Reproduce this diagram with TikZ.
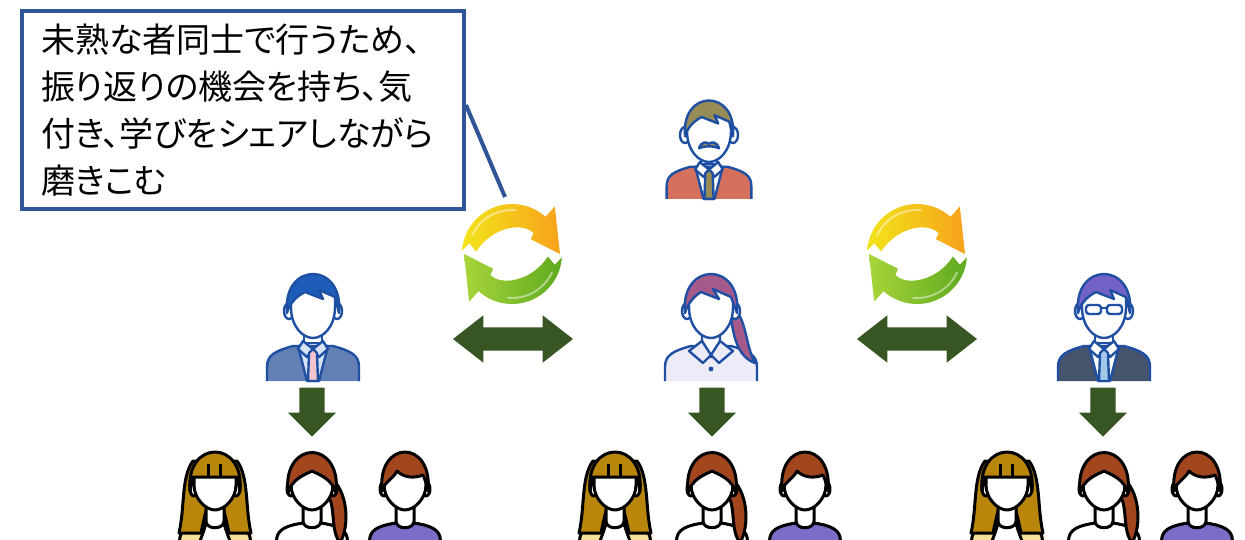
\documentclass[tikz,border=0pt]{standalone}
\usepackage{fontspec}
\newfontfamily\jpfont[RawFeature=+palt]{Noto Sans CJK JP}
\usetikzlibrary{shapes.arrows}

\definecolor{noteblue}{HTML}{2F5597}
\definecolor{darkgreen}{HTML}{375623}
\definecolor{inkblue}{HTML}{1E4FA3}
\definecolor{olivehair}{HTML}{978C55}
\definecolor{bossred}{HTML}{D4705C}
\definecolor{bluehair}{HTML}{1D5CB8}
\definecolor{bluejacket}{HTML}{6380B5}
\definecolor{paleblue}{HTML}{D5E3F5}
\definecolor{pinktie}{HTML}{F2C4D0}
\definecolor{mauve}{HTML}{A65A8C}
\definecolor{lavender}{HTML}{EEEBF8}
\definecolor{violethair}{HTML}{7262C6}
\definecolor{slate}{HTML}{45556E}
\definecolor{skytie}{HTML}{A4C8EA}
\definecolor{goldhair}{HTML}{B8860B}
\definecolor{paleyellow}{HTML}{F5DF9B}
\definecolor{brownhair}{HTML}{A1461D}
\definecolor{purpleshirt}{HTML}{7B6CC8}
\definecolor{cycyellow}{HTML}{F2E41A}
\definecolor{cycorange}{HTML}{F7A21B}
\definecolor{cycgreen}{HTML}{5EAA1F}
\definecolor{cyclime}{HTML}{A8D43A}

\tikzset{
  ink/.style={draw=inkblue, line width=2.4pt, line join=round},
  kid/.style={draw=black, line width=3pt, line join=round},
  notebox/.style={draw=noteblue, line width=4pt, fill=white, minimum width=442pt,
    minimum height=198pt, text width=404pt, inner xsep=19pt, align=left,
    font=\fontsize{34}{47}\selectfont\jpfont},
  swaparrow/.style={double arrow, fill=darkgreen, minimum width=47pt, minimum height=120pt,
    double arrow head extend=12pt, double arrow tip angle=76, inner xsep=0pt, inner ysep=11.5pt},
  downarrow/.style={single arrow, fill=darkgreen, minimum width=48pt, minimum height=49pt,
    single arrow head extend=11.5pt, single arrow tip angle=90, shape border rotate=270,
    inner xsep=12.5pt, inner ysep=0pt, anchor=tip},
  % office people, drawn around the face centre, y pointing down
  pics/officeface/.style={code={
    \draw[ink, fill=white] (-24,6) ellipse [x radius=5, y radius=8];
    \draw[ink, fill=white] (24,6) ellipse [x radius=5, y radius=8];
    \draw[ink, fill=white] (-22,-8) -- (-22,2) .. controls (-22,22) and (-10,33) .. (0,33)
      .. controls (10,33) and (22,22) .. (22,2) -- (22,-8);
  }},
  pics/officeman/.style n args={4}{code={
    \draw[ink, fill=#2] (-46,76) -- (-46,62) .. controls (-46,50) and (-38,46) .. (-20,41)
      -- (20,41) .. controls (38,46) and (46,50) .. (46,62) -- (46,76);
    \draw[ink, fill=#3] (-15,41) -- (15,41) -- (6,76) -- (-6,76) -- cycle;
    \draw[ink, fill=white] (-9,22) -- (-9,38) -- (9,38) -- (9,22);
    \draw[ink, fill=#3] (-10,36) -- (0,44) -- (-6,52) -- (-15,44) -- cycle;
    \draw[ink, fill=#3] (10,36) -- (0,44) -- (6,52) -- (15,44) -- cycle;
    \draw[ink, fill=#4] (0,44) -- (-4,48) -- (-5,76) -- (5,76) -- (4,48) -- cycle;
    \pic {officeface};
    \draw[ink, fill=#1] (-26,8) .. controls (-31,-44) and (31,-44) .. (26,8) -- (22,-8)
      -- (6,-15) -- (10,-6) -- (-8,-13) .. controls (-18,-8) and (-24,0) .. (-26,8) -- cycle;
  }},
  pics/officewoman/.style 2 args={code={
    \draw[ink, fill=#2] (-46,76) -- (-46,62) .. controls (-46,50) and (-38,46) .. (-20,41)
      -- (20,41) .. controls (38,46) and (46,50) .. (46,62) -- (46,76);
    \draw[ink, fill=white] (-9,22) -- (-9,40) -- (0,52) -- (9,40) -- (9,22);
    \draw[ink, fill=#2] (-9,36) -- (0,50) -- (-8,58) -- (-22,46) -- cycle;
    \draw[ink, fill=#2] (9,36) -- (0,50) -- (8,58) -- (22,46) -- cycle;
    \fill[inkblue] (0,64) circle (2.4);
    \draw[ink, fill=#1] (20,0) .. controls (36,12) and (34,40) .. (44,58)
      .. controls (28,52) and (24,36) .. (21,20) -- cycle;
    \pic {officeface};
    \draw[ink, fill=#1] (-26,8) .. controls (-31,-44) and (31,-44) .. (26,8) -- (20,-8)
      -- (2,-16) -- (8,-6) -- (-10,-13) .. controls (-18,-8) and (-24,0) .. (-26,8) -- cycle;
  }},
  pics/specs/.style={code={
    \draw[ink, rounded corners=3] (-18,0) rectangle (-3,9);
    \draw[ink, rounded corners=3] (3,0) rectangle (18,9);
    \draw[ink] (-3,3) -- (3,3);
  }},
  pics/mustache/.style={code={
    \draw[ink, fill=olivehair] (-11,21) .. controls (-8,13) and (-3,14) .. (0,16)
      .. controls (3,14) and (8,13) .. (11,21) .. controls (5,18) and (-5,18) .. cycle;
  }},
  % children, same idea with a black outline
  pics/kidface/.style={code={
    \draw[kid, fill=white] (-9,14) -- (-9,34) .. controls (-9,43) and (9,43) .. (9,34) -- (9,14);
    \draw[kid, fill=white] (-21,2) ellipse [x radius=4, y radius=7];
    \draw[kid, fill=white] (21,2) ellipse [x radius=4, y radius=7];
    \draw[kid, fill=white] (-21,-10) -- (-21,-2) .. controls (-21,12) and (-9,23) .. (0,23)
      .. controls (9,23) and (21,12) .. (21,-2) -- (21,-10);
  }},
  pics/kidbody/.style={code={
    \draw[kid, fill=#1] (-36,58) -- (-35,50) .. controls (-33,41) and (-22,38) .. (-9,36)
      -- (9,36) .. controls (22,38) and (33,41) .. (35,50) -- (36,58);
  }},
  pics/kidboy/.style 2 args={code={
    \pic {kidbody=#2};
    \pic {kidface};
    \draw[kid, fill=#1] (-23,4) .. controls (-28,-48) and (28,-48) .. (23,4)
      .. controls (21,-4) and (20,-8) .. (18,-12) .. controls (8,-8) and (-2,-10) .. (-8,-16)
      .. controls (-12,-8) and (-20,-6) .. (-23,4) -- cycle;
  }},
  pics/kidpony/.style 2 args={code={
    \pic {kidbody=#2};
    \draw[kid, fill=#1] (18,-10) .. controls (36,4) and (38,38) .. (28,56)
      .. controls (18,42) and (24,22) .. (16,8) -- cycle;
    \pic {kidface};
    \draw[kid, fill=#1] (-24,6) .. controls (-30,-48) and (30,-48) .. (24,6)
      .. controls (20,-8) and (8,-12) .. (0,-16) .. controls (-8,-12) and (-20,-8) .. (-24,6) -- cycle;
  }},
  pics/kidlong/.style 2 args={code={
    \pic {kidbody=#2};
    \draw[kid, fill=#1] (-22,-26) .. controls (-34,-10) and (-30,20) .. (-36,46) -- (-14,46)
      .. controls (-12,36) and (-10,28) .. (-8,20) -- (8,20) .. controls (10,28) and (12,36) .. (14,46)
      -- (36,46) .. controls (30,20) and (34,-10) .. (22,-26) -- cycle;
    \draw[kid, fill=white] (-8,14) -- (-8,32) .. controls (-10,42) and (-14,50) .. (-16,58)
      -- (16,58) .. controls (14,50) and (10,42) .. (8,32) -- (8,14);
    \pic {kidface};
    \draw[kid, fill=#1] (-25,4) .. controls (-30,-48) and (30,-48) .. (25,4) -- (22,-10) -- (-22,-10) -- cycle;
    \draw[kid] (-7,-10) -- (-7,-23) (5,-10) -- (5,-23);
  }},
  % pair of round arrows, y up inside
  pics/cycle/.style={code={
    \begin{scope}[yscale=-1]
      \shade[left color=cycyellow, right color=cycorange] (176:50) arc[start angle=176, end angle=48, radius=50]
        -- (48:64) -- (0:48) -- (38:24) -- (44:30) .. controls (70:34) and (125:34) .. (176:36) -- (166:44) -- cycle;
      \draw[white, opacity=0.45, line width=2pt, line cap=round] (155:44) arc[start angle=155, end angle=85, radius=44];
      \begin{scope}[rotate=180]
        \shade[left color=cyclime, right color=cycgreen] (176:50) arc[start angle=176, end angle=48, radius=50]
          -- (48:64) -- (0:48) -- (38:24) -- (44:30) .. controls (70:34) and (125:34) .. (176:36) -- (166:44) -- cycle;
        \draw[white, opacity=0.45, line width=2pt, line cap=round] (155:44) arc[start angle=155, end angle=85, radius=44];
      \end{scope}
    \end{scope}
  }},
}

\begin{document}
\begin{tikzpicture}[x=1pt, y=-1pt]
  \useasboundingbox[fill=white] (0,0) rectangle (1245,539);

  % callout
  \node[notebox, anchor=north west] (note) at (20,9)
    {未熟な者同士で行うため、\\振り返りの機会を持ち、気\\付き、学びをシェアしながら\\磨きこむ};
  \coordinate (notetip) at (505,197);
  \draw[noteblue, line width=4pt] ([yshift=5pt]note.east) -- (notetip);

  % top and middle row
  \pic[scale=0.92] (boss) at (709,129) {officeman={olivehair}{bossred}{white}{olivehair}};
  \pic at (709,129) [scale=0.92] {mustache};
  \pic (leadA) at (313,305) {officeman={bluehair}{bluejacket}{paleblue}{pinktie}};
  \pic (leadB) at (711,305) {officewoman={mauve}{lavender}};
  \pic (leadC) at (1104,305) {officeman={violethair}{slate}{white}{skytie}};
  \pic at (1104,305) {specs};

  \pic (turnA) at (512,254) {cycle};
  \pic (turnB) at (917,254) {cycle};
  \node[swaparrow] (swapA) at (513,339) {};
  \node[swaparrow] (swapB) at (917,339) {};

  \node[downarrow] (downA) at (312,437) {};
  \node[downarrow] (downB) at (712,437) {};
  \node[downarrow] (downC) at (1103,437) {};

  % bottom row
  \foreach \x/\g in {312/A, 712/B, 1104/C} {
    \pic (long\g) at (\x-97,487) {kidlong={goldhair}{paleyellow}};
    \pic (pony\g) at (\x,487) {kidpony={brownhair}{white}};
    \pic (boy\g) at (\x+93,487) {kidboy={brownhair}{purpleshirt}};
  }
\end{tikzpicture}
\end{document}
